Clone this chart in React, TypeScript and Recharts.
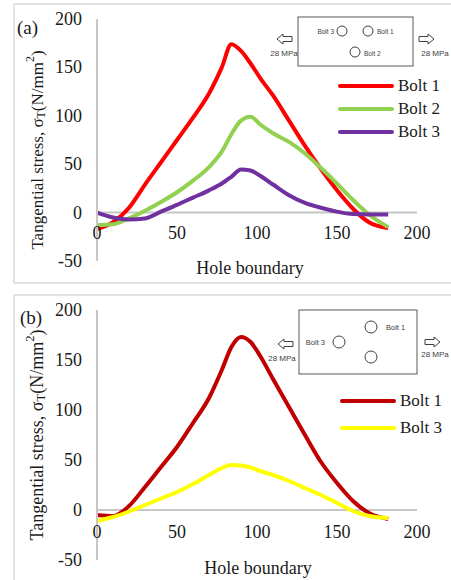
import React from "react";
import { LineChart, Line, XAxis, YAxis, ReferenceLine, Legend } from "recharts";

const SERIF = "'Liberation Serif', 'Times New Roman', serif";
const SANS = "'Liberation Sans', Arial, sans-serif";

// Hole boundary positions (shared x categories)
const holePositions = [0, 10, 20, 30, 40, 50, 60, 70, 78, 84, 90, 96, 102, 110, 120, 130, 140, 150, 160, 170, 182];

// Panel (a)
const boltA1 = [-17, -10, 5, 29, 52, 75, 98, 123, 150, 174, 167, 154, 139, 121, 95, 69, 45, 23, 4, -10, -16];
const boltA2 = [-13, -12, -6, 2, 11, 21, 33, 47, 63, 81, 95, 99, 91, 82, 73, 61, 46, 30, 13, -2, -15];
const boltA3 = [0, -5, -7, -6, 1, 8, 15.5, 23, 30, 37, 44.5, 43.5, 38, 29, 18, 10, 5, 1, -1.5, -2, -2];

// Panel (b)
const boltB1 = [-5, -6, 4, 23, 43, 63, 87, 112, 140, 163, 173, 168, 154, 131, 103, 75, 48, 27, 9, -3, -9];
const boltB3 = [-11, -7, -1.5, 5, 11.5, 18, 26, 35, 42, 45, 44.5, 42.5, 39, 35, 29, 22, 15, 7, -1, -6, -8];

const xTicks = [0, 50, 100, 150, 200];
const yTicks = [-50, 0, 50, 100, 150, 200];

const dataA = holePositions.map((x, i) => ({ x, b1: boltA1[i], b2: boltA2[i], b3: boltA3[i] }));
const dataB = holePositions.map((x, i) => ({ x, b1: boltB1[i], b3: boltB3[i] }));

const AXIS_GRAY = "#c6c6c6";
const TEXT = "#1a1a1a";

const makeXTick = (shift: number) => (props: any) => (
  <text
    x={props.x}
    y={props.y - shift}
    textAnchor="middle"
    dominantBaseline="central"
    fontFamily={SERIF}
    fontSize={18}
    fill={TEXT}
  >
    {props.payload.value}
  </text>
);

const yTick = (props: any) => (
  <text
    x={props.x}
    y={props.y}
    textAnchor="end"
    dominantBaseline="central"
    fontFamily={SERIF}
    fontSize={18}
    fill={TEXT}
  >
    {props.payload.value}
  </text>
);

const makeLegend = (rowH: number) => (props: any) => (
  <div style={{ fontFamily: SERIF }}>
    {(props.payload || []).map((e: any) => (
      <div key={e.value} style={{ display: "flex", alignItems: "center", height: rowH }}>
        <svg width={56} height={8} style={{ display: "block" }}>
          <line x1={2} y1={4} x2={54} y2={4} stroke={e.color} strokeWidth={4} strokeLinecap="round" />
        </svg>
        <span style={{ marginLeft: 4, fontFamily: SERIF, fontSize: 17, fontWeight: 400, color: TEXT, lineHeight: 1 }}>
          {e.value}
        </span>
      </div>
    ))}
  </div>
);

const leftArrow = (tx: number, y: number) =>
  `${tx},${y} ${tx + 6},${y - 5} ${tx + 6},${y - 2.5} ${tx + 15},${y - 2.5} ${tx + 15},${y + 2.5} ${tx + 6},${y + 2.5} ${tx + 6},${y + 5}`;
const rightArrow = (tx: number, y: number) =>
  `${tx},${y} ${tx - 6},${y - 5} ${tx - 6},${y - 2.5} ${tx - 15},${y - 2.5} ${tx - 15},${y + 2.5} ${tx - 6},${y + 2.5} ${tx - 6},${y + 5}`;

const YTitle = ({ cx, cy, size }: { cx: number; cy: number; size: number }) => (
  <text
    x={cx}
    y={cy}
    transform={`rotate(-90, ${cx}, ${cy})`}
    textAnchor="middle"
    dominantBaseline="central"
    fontFamily={SERIF}
    fontSize={size}
    fill={TEXT}
  >
    Tangential stress, σ
    <tspan fontSize={size * 0.7} dy={4}>T</tspan>
    <tspan dy={-4}>(N/mm</tspan>
    <tspan fontSize={size * 0.7} dy={-7}>2</tspan>
    <tspan dy={7}>)</tspan>
  </text>
);

const commonY = {
  type: "number" as const,
  domain: [-50, 200],
  ticks: yTicks,
  width: 60,
  axisLine: { stroke: AXIS_GRAY, strokeWidth: 2 },
  tickLine: false,
  tickSize: 0,
  tickMargin: 15,
  interval: 0 as const,
  tick: yTick,
};

export default function App() {
  return (
    <div style={{ position: "absolute", left: 0, top: 0, width: 451, height: 580, background: "#fff", overflow: "hidden", fontFamily: SERIF }}>
      {/* Panel (a) */}
      <div style={{ position: "absolute", left: 0, top: 0, width: 451, height: 290 }}>
        <LineChart width={451} height={290} data={dataA} margin={{ top: 19, right: 34, bottom: 0, left: 37 }}>
          <XAxis
            dataKey="x"
            type="number"
            domain={[0, 200]}
            ticks={xTicks}
            interval={0}
            height={29}
            axisLine={false}
            tickLine={false}
            tickSize={0}
            tickMargin={0}
            tick={makeXTick(28)}
          />
          <YAxis {...commonY} />
          <ReferenceLine y={0} stroke={AXIS_GRAY} strokeWidth={2} />
          <Legend
            layout="vertical"
            align="center"
            verticalAlign="middle"
            wrapperStyle={{ left: 338, top: 74, width: 110 }}
            content={makeLegend(23)}
          />
          <Line dataKey="b1" name="Bolt 1" type="monotone" stroke="#FF0000" strokeWidth={4} dot={false} isAnimationActive={false} />
          <Line dataKey="b2" name="Bolt 2" type="monotone" stroke="#92D050" strokeWidth={4} dot={false} isAnimationActive={false} />
          <Line dataKey="b3" name="Bolt 3" type="monotone" stroke="#7030A0" strokeWidth={4} dot={false} isAnimationActive={false} />
        </LineChart>
        <svg width={451} height={290} style={{ position: "absolute", left: 0, top: 0, pointerEvents: "none" }}>
          <line x1={14} y1={4} x2={451} y2={4} stroke="#d9d9d9" strokeWidth={1.5} />
          <line x1={14} y1={4} x2={14} y2={283} stroke="#d9d9d9" strokeWidth={1.5} />
          <line x1={14} y1={283} x2={451} y2={283} stroke="#d9d9d9" strokeWidth={1.5} />
          <text x={17} y={27} dominantBaseline="central" fontFamily={SERIF} fontSize={19} fill={TEXT}>(a)</text>
          <YTitle cx={37} cy={150} size={17} />
          <text x={250} y={268} textAnchor="middle" dominantBaseline="central" fontFamily={SERIF} fontSize={18} fill={TEXT}>
            Hole boundary
          </text>
          {/* inset */}
          <rect x={298} y={17} width={115} height={49} fill="#fff" stroke="#595959" strokeWidth={1} />
          <circle cx={342} cy={31} r={5} fill="none" stroke="#404040" strokeWidth={1} />
          <circle cx={368} cy={31} r={5} fill="none" stroke="#404040" strokeWidth={1} />
          <circle cx={355} cy={52} r={5} fill="none" stroke="#404040" strokeWidth={1} />
          <text x={334} y={31} textAnchor="end" dominantBaseline="central" fontFamily={SANS} fontSize={6.5} fill="#404040">Bolt 3</text>
          <text x={377} y={31} dominantBaseline="central" fontFamily={SANS} fontSize={6.5} fill="#404040">Bolt 1</text>
          <text x={364} y={53} dominantBaseline="central" fontFamily={SANS} fontSize={6.5} fill="#404040">Bolt 2</text>
          <polygon points={leftArrow(277, 39)} fill="#fff" stroke="#404040" strokeWidth={1} />
          <polygon points={rightArrow(434, 39)} fill="#fff" stroke="#404040" strokeWidth={1} />
          <text x={284} y={53} textAnchor="middle" dominantBaseline="central" fontFamily={SANS} fontSize={8} fill="#404040">28 MPa</text>
          <text x={435} y={53} textAnchor="middle" dominantBaseline="central" fontFamily={SANS} fontSize={8} fill="#404040">28 MPa</text>
        </svg>
      </div>

      {/* Panel (b) */}
      <div style={{ position: "absolute", left: 0, top: 290, width: 451, height: 290 }}>
        <LineChart width={451} height={290} data={dataB} margin={{ top: 20, right: 34, bottom: 0, left: 37 }}>
          <XAxis
            dataKey="x"
            type="number"
            domain={[0, 200]}
            ticks={xTicks}
            interval={0}
            height={20}
            axisLine={false}
            tickLine={false}
            tickSize={0}
            tickMargin={0}
            tick={makeXTick(28)}
          />
          <YAxis {...commonY} />
          <ReferenceLine y={0} stroke={AXIS_GRAY} strokeWidth={2} />
          <Legend
            layout="vertical"
            align="center"
            verticalAlign="middle"
            wrapperStyle={{ left: 340, top: 97, width: 110 }}
            content={makeLegend(27)}
          />
          <Line dataKey="b1" name="Bolt 1" type="monotone" stroke="#C00000" strokeWidth={4} dot={false} isAnimationActive={false} />
          <Line dataKey="b3" name="Bolt 3" type="monotone" stroke="#FFFF00" strokeWidth={4} dot={false} isAnimationActive={false} />
        </LineChart>
        <svg width={451} height={290} style={{ position: "absolute", left: 0, top: 0, pointerEvents: "none" }}>
          <line x1={14} y1={5} x2={451} y2={5} stroke="#d9d9d9" strokeWidth={1.5} />
          <line x1={14} y1={5} x2={14} y2={290} stroke="#d9d9d9" strokeWidth={1.5} />
          <text x={20} y={27} dominantBaseline="central" fontFamily={SERIF} fontSize={19} fill={TEXT}>(b)</text>
          <YTitle cx={37} cy={145} size={18} />
          <text x={258} y={278} textAnchor="middle" dominantBaseline="central" fontFamily={SERIF} fontSize={18} fill={TEXT}>
            Hole boundary
          </text>
          {/* inset */}
          <rect x={299} y={20} width={118} height={64} fill="#fff" stroke="#595959" strokeWidth={1} />
          <circle cx={371} cy={37} r={6} fill="none" stroke="#404040" strokeWidth={1} />
          <circle cx={339} cy={52} r={6} fill="none" stroke="#404040" strokeWidth={1} />
          <circle cx={371} cy={67} r={6} fill="none" stroke="#404040" strokeWidth={1} />
          <text x={386} y={37} dominantBaseline="central" fontFamily={SANS} fontSize={7.5} fill="#404040">Bolt 1</text>
          <text x={325} y={52} textAnchor="end" dominantBaseline="central" fontFamily={SANS} fontSize={7.5} fill="#404040">Bolt 3</text>
          <polygon points={leftArrow(278, 54)} fill="#fff" stroke="#404040" strokeWidth={1} />
          <polygon points={rightArrow(440, 52)} fill="#fff" stroke="#404040" strokeWidth={1} />
          <text x={282} y={68} textAnchor="middle" dominantBaseline="central" fontFamily={SANS} fontSize={8} fill="#404040">28 MPa</text>
          <text x={435} y={64} textAnchor="middle" dominantBaseline="central" fontFamily={SANS} fontSize={8} fill="#404040">28 MPa</text>
        </svg>
      </div>
    </div>
  );
}
